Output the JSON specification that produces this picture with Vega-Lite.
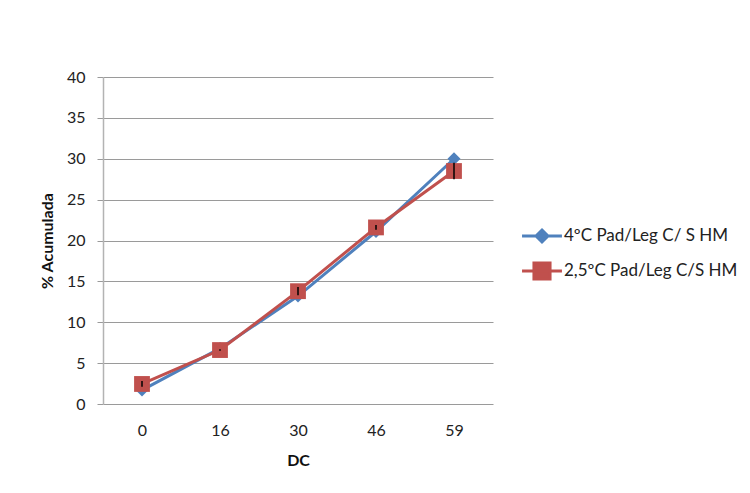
{
  "$schema": "https://vega.github.io/schema/vega-lite/v6.json",
  "width": 390,
  "height": 327,
  "autosize": {"type": "none"},
  "padding": {"left": 103, "top": 77, "right": 257, "bottom": 89},
  "background": "white",
  "config": {
    "view": {"stroke": null},
    "font": "Lato",
    "axis": {"labelFont": "Lato", "titleFont": "Lato", "labelColor": "#222", "titleColor": "#111"}
  },
  "data": {
    "values": [
      {"dc": "0", "serie": "4ºC Pad/Leg C/ S HM", "v": 1.7, "err": 0},
      {"dc": "16", "serie": "4ºC Pad/Leg C/ S HM", "v": 6.8, "err": 0},
      {"dc": "30", "serie": "4ºC Pad/Leg C/ S HM", "v": 13.2, "err": 0},
      {"dc": "46", "serie": "4ºC Pad/Leg C/ S HM", "v": 21.1, "err": 0},
      {"dc": "59", "serie": "4ºC Pad/Leg C/ S HM", "v": 30.0, "err": 0},
      {"dc": "0", "serie": "2,5ºC Pad/Leg C/S HM", "v": 2.45, "err": 0.35},
      {"dc": "16", "serie": "2,5ºC Pad/Leg C/S HM", "v": 6.6, "err": 0.1},
      {"dc": "30", "serie": "2,5ºC Pad/Leg C/S HM", "v": 13.8, "err": 0.5},
      {"dc": "46", "serie": "2,5ºC Pad/Leg C/S HM", "v": 21.6, "err": 0.3},
      {"dc": "59", "serie": "2,5ºC Pad/Leg C/S HM", "v": 28.5, "err": 1.0}
    ]
  },
  "encoding": {
    "x": {
      "field": "dc", "type": "ordinal", "sort": ["0", "16", "30", "46", "59"],
      "scale": {"type": "point", "padding": 0.5},
      "axis": {"title": "DC", "labelAngle": 0, "ticks": false, "domain": false, "grid": false,
        "labelFontSize": 16, "labelPadding": 18, "titleFontSize": 16, "titleFontWeight": "bold", "titlePadding": 14}
    },
    "y": {
      "field": "v", "type": "quantitative",
      "scale": {"domain": [0, 40], "nice": false},
      "axis": {"title": "% Acumulada", "values": [0, 5, 10, 15, 20, 25, 30, 35, 40],
        "grid": true, "gridColor": "#9a9a9a", "gridWidth": 1, "gridOpacity": 1,
        "domain": true, "domainColor": "#b3b3b3", "domainWidth": 1.5,
        "ticks": true, "tickSize": 6, "tickColor": "#9a9a9a", "tickWidth": 1,
        "labelFontSize": 16, "labelPadding": 12, "titleFontSize": 16, "titleFontWeight": "bold", "titlePadding": 11}
    },
    "color": {
      "field": "serie", "type": "nominal",
      "scale": {"domain": ["4ºC Pad/Leg C/ S HM", "2,5ºC Pad/Leg C/S HM"], "range": ["#4F81BD", "#C0504D"]},
      "legend": {
        "title": null, "orient": "none", "legendX": 420, "legendY": 140,
        "labelFontSize": 17, "labelFont": "Lato", "labelColor": "#222", "labelLimit": 400,
        "symbolSize": 1225, "labelOffset": 3, "rowPadding": 4,
        "encode": {
          "symbols": {
            "update": {
              "shape": {"signal": "datum.value === '4ºC Pad/Leg C/ S HM' ? 'M-1.14,0L1.14,0M0,-0.34L0.34,0L0,0.34L-0.34,0Z' : 'M-1.14,0L1.14,0M-0.46,-0.46L0.46,-0.46L0.46,0.46L-0.46,0.46Z'"},
              "fill": {"signal": "scale('color', datum.value)"},
              "stroke": {"signal": "scale('color', datum.value)"},
              "strokeWidth": {"value": 3},
              "fillOpacity": {"value": 1},
              "opacity": {"value": 1}
            }
          }
        }
      }
    }
  },
  "layer": [
    {"transform": [{"filter": "datum.serie === '4ºC Pad/Leg C/ S HM'"}], "mark": {"type": "line", "strokeWidth": 3}},
    {"transform": [{"filter": "datum.serie === '4ºC Pad/Leg C/ S HM'"}], "mark": {"type": "point", "shape": "diamond", "filled": true, "size": 170, "opacity": 1}},
    {"transform": [{"filter": "datum.serie === '2,5ºC Pad/Leg C/S HM'"}], "mark": {"type": "line", "strokeWidth": 3}},
    {"transform": [{"filter": "datum.serie === '2,5ºC Pad/Leg C/S HM'"}], "mark": {"type": "point", "shape": "square", "filled": true, "size": 250, "opacity": 1}},
    {
      "transform": [
        {"filter": "datum.err > 0"},
        {"calculate": "datum.v - datum.err", "as": "lo"},
        {"calculate": "datum.v + datum.err", "as": "hi"}
      ],
      "mark": {"type": "rule", "strokeWidth": 1.5},
      "encoding": {
        "y": {"field": "lo", "type": "quantitative"},
        "y2": {"field": "hi"},
        "color": {"value": "black"}
      }
    }
  ]
}
